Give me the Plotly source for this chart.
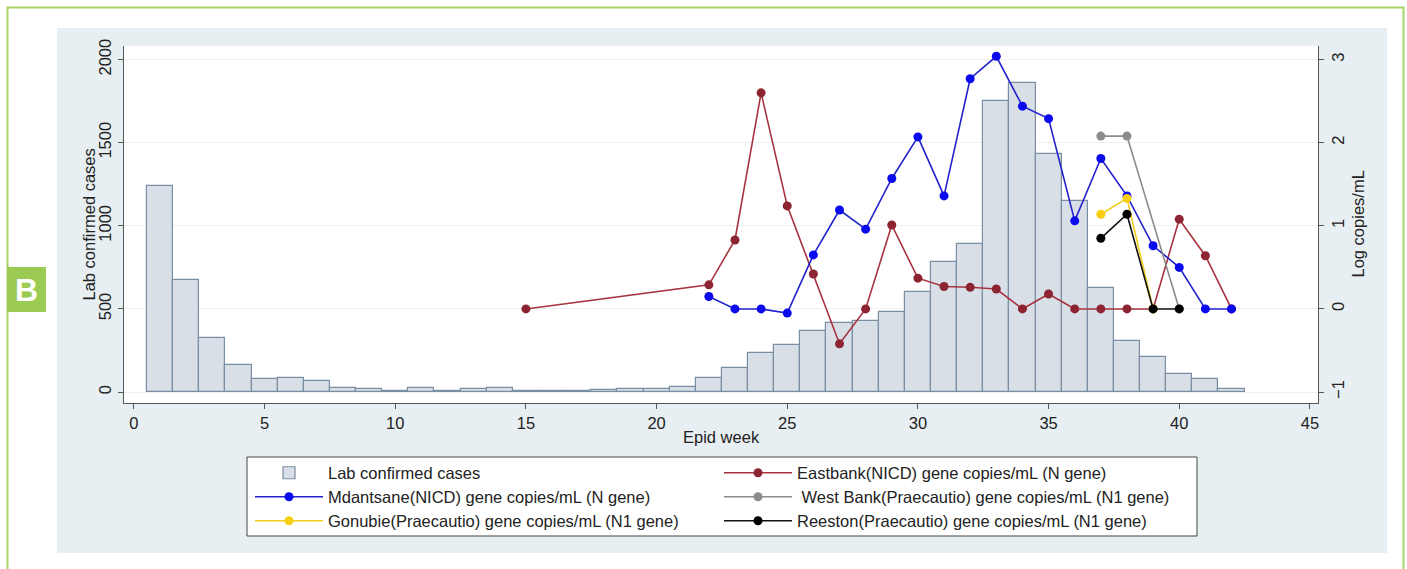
import plotly.graph_objects as go

# ---- data -------------------------------------------------------------
weeks = list(range(1, 43))
lab_cases = [1240, 675, 324, 160, 76, 84, 68, 26, 18, 8,
             26, 8, 18, 24, 8, 8, 8, 10, 18, 18,
             32, 82, 142, 236, 286, 366, 418, 426, 482, 599,
             785, 893, 1754, 1860, 1433, 1149, 626, 308, 208, 108,
             76, 16]

eastbank_weeks = [15, 22, 23, 24, 25, 26, 27, 28, 29, 30, 31,
                  32, 33, 34, 35, 36, 37, 38, 39, 40, 41, 42]
eastbank_log = [0.0, 0.29, 0.83, 2.60, 1.24, 0.42, -0.42, 0.0, 1.01, 0.37, 0.27,
                0.26, 0.24, 0.0, 0.18, 0.0, 0.0, 0.0, 0.0, 1.08, 0.64, 0.0]

mdantsane_weeks = list(range(22, 43))
mdantsane_log = [0.15, 0.0, 0.0, -0.05, 0.65, 1.19, 0.96, 1.57, 2.07, 1.36,
                 2.77, 3.04, 2.44, 2.29, 1.06, 1.81, 1.36, 0.76, 0.50, 0.0, 0.0]

westbank_weeks = [37, 38, 40]
westbank_log = [2.08, 2.08, 0.0]

gonubie_weeks = [37, 38, 39]
gonubie_log = [1.14, 1.33, 0.0]

reeston_weeks = [37, 38, 39, 40]
reeston_log = [0.85, 1.14, 0.0, 0.0]

x_ticks = [0, 5, 10, 15, 20, 25, 30, 35, 40, 45]
left_ticks = [0, 500, 1000, 1500, 2000]
right_ticks = [-1, 0, 1, 2, 3]

# ---- canvas geometry (pixels) ----------------------------------------
W, H = 1407, 569
PL, PR, PT, PB = 124, 1318, 46, 403          # plot area edges
PW, PH = PR - PL, PB - PT


def fx(p):
    return (p - PL) / PW


def fy(p):
    return (PB - p) / PH


FONT = "Liberation Sans, Arial, sans-serif"
FS = 16.5
TXT = "#222222"
AXC = "#555555"

fig = go.Figure()

fig.add_trace(go.Bar(
    x=weeks, y=lab_cases, width=1.0, name="Lab confirmed cases",
    marker=dict(color="#d9dfe7", line=dict(color="#7a8ea3", width=1.2)),
    legend="legend",
))

series = [
    ("Eastbank(NICD) gene copies/mL (N gene)", eastbank_weeks, eastbank_log,
     "#a8323f", "#8c2431", "legend2"),
    ("Mdantsane(NICD) gene copies/mL (N gene)", mdantsane_weeks, mdantsane_log,
     "#2222cc", "#0a0aee", "legend3"),
    (" West Bank(Praecautio) gene copies/mL (N1 gene)", westbank_weeks, westbank_log,
     "#8c8c8c", "#8c8c8c", "legend4"),
    ("Gonubie(Praecautio) gene copies/mL (N1 gene)", gonubie_weeks, gonubie_log,
     "#f2cc1a", "#f7cf10", "legend5"),
    ("Reeston(Praecautio) gene copies/mL (N1 gene)", reeston_weeks, reeston_log,
     "#111111", "#000000", "legend6"),
]
for name, xs, ys, lc, mc, lg in series:
    fig.add_trace(go.Scatter(
        x=xs, y=ys, yaxis="y2", mode="lines+markers", name=name,
        line=dict(color=lc, width=1.6),
        marker=dict(color=mc, size=9),
        legend=lg,
    ))

# ---- background panels, legend frame, panel tag -----------------------
shapes = [
    dict(type="rect", xref="paper", yref="paper",
         x0=fx(7.5), x1=fx(1403.5), y0=fy(620), y1=fy(7.5),
         line=dict(color="#a6d46b", width=2), fillcolor="white", layer="below"),
    dict(type="rect", xref="paper", yref="paper",
         x0=fx(57), x1=fx(1387), y0=fy(553), y1=fy(28),
         line=dict(width=0), fillcolor="#e8eff2", layer="below"),
    dict(type="rect", xref="paper", yref="paper",
         x0=0, x1=1, y0=0, y1=1,
         line=dict(width=0), fillcolor="white", layer="below"),
    dict(type="rect", xref="paper", yref="paper",
         x0=fx(247), x1=fx(1197), y0=fy(536), y1=fy(457),
         line=dict(color="#444444", width=1), fillcolor="white", layer="below"),
    dict(type="rect", xref="paper", yref="paper",
         x0=fx(7), x1=fx(46), y0=fy(312), y1=fy(267),
         line=dict(width=0), fillcolor="#9ccb54", layer="above"),
]

annotations = [
    dict(text="<b>B</b>", xref="paper", yref="paper", x=fx(26.5), y=fy(290),
         xanchor="center", yanchor="middle", showarrow=False,
         font=dict(family=FONT, size=32, color="white")),
    dict(text="Lab confirmed cases", xref="paper", yref="paper",
         x=fx(88), y=fy(224.5), xanchor="center", yanchor="middle",
         textangle=-90, showarrow=False, font=dict(family=FONT, size=FS, color=TXT)),
    dict(text="Log copies/mL", xref="paper", yref="paper",
         x=fx(1357), y=fy(224.5), xanchor="center", yanchor="middle",
         textangle=-90, showarrow=False, font=dict(family=FONT, size=FS, color=TXT)),
    dict(text="Epid week", xref="paper", yref="paper",
         x=fx(721), y=fy(437), xanchor="center", yanchor="middle",
         showarrow=False, font=dict(family=FONT, size=FS, color=TXT)),
]

# ---- legends: two columns, three rows inside one frame ---------------
row_y = [473, 497, 521]
col_x = [250, 719]
legend_slots = {
    "legend": (0, 0), "legend2": (1, 0),
    "legend3": (0, 1), "legend4": (1, 1),
    "legend5": (0, 2), "legend6": (1, 2),
}
legend_layout = {}
for key, (c, r) in legend_slots.items():
    legend_layout[key] = dict(
        x=fx(col_x[c]), y=fy(row_y[r]), xanchor="left", yanchor="middle",
        bgcolor="rgba(0,0,0,0)", borderwidth=0, itemwidth=68,
        font=dict(family=FONT, size=FS, color=TXT),
    )

axis_common = dict(
    showline=True, linecolor=AXC, linewidth=1,
    ticks="outside", ticklen=5, tickcolor=AXC, tickwidth=1,
    tickfont=dict(family=FONT, size=FS, color=TXT),
    zeroline=False,
)

fig.update_layout(
    width=W, height=H,
    margin=dict(l=PL, r=W - PR, t=PT, b=H - PB),
    paper_bgcolor="white", plot_bgcolor="white",
    bargap=0, showlegend=True,
    font=dict(family=FONT, size=FS, color=TXT),
    xaxis=dict(range=[-0.38, 45.31], tickvals=x_ticks, showgrid=False,
               **axis_common),
    yaxis=dict(range=[-66, 2082], tickvals=left_ticks, tickangle=-90,
               showgrid=True, gridcolor="#edf1f3", gridwidth=1,
               **axis_common),
    yaxis2=dict(range=[-1.132, 3.164], tickvals=right_ticks, tickangle=-90,
                overlaying="y", side="right", showgrid=False,
                **axis_common),
    shapes=shapes,
    annotations=annotations,
    **legend_layout,
)

fig.write_html("out.html")
